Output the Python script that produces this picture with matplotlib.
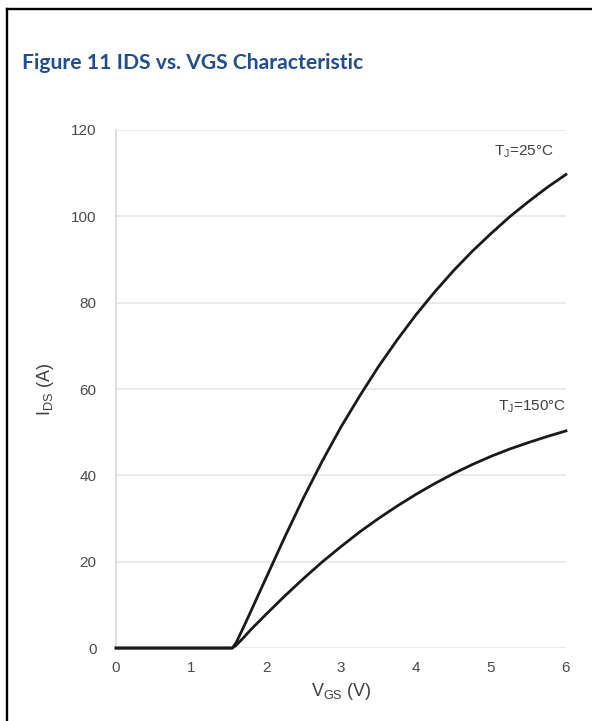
import matplotlib.pyplot as plt
from matplotlib.lines import Line2D

plt.rcParams['font.family'] = ['Liberation Sans', 'DejaVu Sans']
plt.rcParams['mathtext.default'] = 'regular'

# gate voltage (V) and drain current (A) for the two junction temperatures
vgs = [0, 1.5, 1.55, 1.6, 1.7, 1.8, 2.0, 2.25, 2.5, 2.75, 3.0, 3.25, 3.5,
       3.75, 4.0, 4.25, 4.5, 4.75, 5.0, 5.25, 5.5, 5.75, 6.0]
ids_25 = [0, 0, 0, 1.2, 4.8, 8.6, 16.2, 25.7, 34.8, 43.3, 51.2, 58.4, 65.2,
          71.4, 77.2, 82.5, 87.4, 91.9, 96.0, 99.9, 103.4, 106.7, 109.7]
ids_150 = [0, 0, 0, 0.6, 2.4, 4.3, 7.8, 12.05, 16.1, 19.95, 23.5, 26.9, 30.0,
           32.9, 35.6, 38.1, 40.4, 42.5, 44.4, 46.1, 47.6, 49.0, 50.3]

labels = ['T$_J$=25°C', 'T$_J$=150°C']
label_pos = [(5.84, 113), (6.0, 54)]

xticks = [0, 1, 2, 3, 4, 5, 6]
yticks = [0, 20, 40, 60, 80, 100, 120]

fig = plt.figure(figsize=(5.92, 7.21), dpi=100)
ax = fig.add_axes([0.196, 0.1012, 0.76, 0.7185])

ax.plot(vgs, ids_25, color='#1a1a1a', lw=2.0, clip_on=False, zorder=3,
        solid_joinstyle='round')
ax.plot(vgs, ids_150, color='#1a1a1a', lw=2.0, clip_on=False, zorder=3,
        solid_joinstyle='round')

for txt, (x, y) in zip(labels, label_pos):
    ax.text(x, y, txt, ha='right', va='bottom', fontsize=11, color='#404040')

ax.set_xlim(0, 6)
ax.set_ylim(0, 120)
ax.set_xticks(xticks)
ax.set_yticks(yticks)
ax.tick_params(length=0, labelsize=11, labelcolor='#4a4a4a')
ax.tick_params(axis='y', pad=14)
ax.tick_params(axis='x', pad=9)
ax.grid(axis='y', color='#e6e6e6', lw=1.2)
ax.set_axisbelow(True)
for side in ['top', 'right', 'bottom']:
    ax.spines[side].set_visible(False)
ax.spines['left'].set_color('#d9d9d9')
ax.spines['left'].set_linewidth(1.2)

ax.set_xlabel('V$_{GS}$ (V)', fontsize=13, color='#404040', labelpad=5)
ax.set_ylabel('I$_{DS}$ (A)', fontsize=13, color='#404040', labelpad=11)

fig.text(0.037, 0.913, 'Figure 11 IDS vs. VGS Characteristic', fontsize=15.2,
         fontweight='bold', color='#234e8e', family=['Lato', 'DejaVu Sans'],
         va='center')

# frame lines on the left and top edges
fig.add_artist(Line2D([0.0118, 0.0118], [0, 0.9875], color='black', lw=1.7))
fig.add_artist(Line2D([0.0118, 1.0], [0.9875, 0.9875], color='black', lw=1.7))

fig.savefig('out.png', dpi=100)
